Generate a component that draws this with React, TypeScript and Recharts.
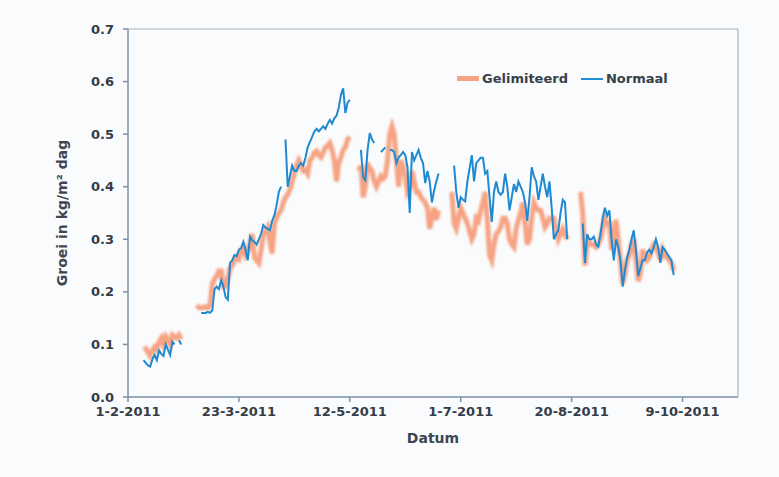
import React from "react";
import {
  LineChart,
  Line,
  XAxis,
  YAxis,
  Legend,
  ReferenceLine,
} from "recharts";

// day 0 = 1-2-2011
const xTickDays = [0, 50, 100, 150, 200, 250];
const yTicks = [0, 0.1, 0.2, 0.3, 0.4, 0.5, 0.6, 0.7];

const normaalSegments = [
  { start: 7, values: [0.07, 0.065, 0.06, 0.058, 0.072, 0.08, 0.07, 0.088, 0.082, 0.078, 0.1, 0.09, 0.08, 0.105, 0.1] },
  { start: 23, values: [0.108, 0.1] },
  {
    start: 33,
    values: [
      0.16, 0.16, 0.16, 0.162, 0.16, 0.165, 0.205, 0.21, 0.205, 0.222, 0.21, 0.19, 0.185, 0.255, 0.26, 0.27,
      0.268, 0.28, 0.283, 0.295, 0.28, 0.26, 0.305, 0.298, 0.295, 0.29, 0.3, 0.31, 0.327, 0.322, 0.32, 0.317,
      0.335, 0.346, 0.365, 0.39, 0.4,
    ],
  },
  {
    start: 71,
    values: [
      0.49, 0.4, 0.42, 0.44, 0.43, 0.43, 0.44, 0.445, 0.44, 0.455, 0.475, 0.485, 0.495, 0.505, 0.51, 0.505,
      0.51, 0.515, 0.51, 0.52, 0.527, 0.52, 0.53, 0.535, 0.55, 0.575, 0.587, 0.54, 0.56, 0.565,
    ],
  },
  { start: 105, values: [0.47, 0.418, 0.412, 0.47, 0.502, 0.49, 0.483] },
  { start: 114, values: [0.466, 0.47, 0.475] },
  {
    start: 118,
    values: [
      0.47, 0.47, 0.466, 0.445, 0.456, 0.46, 0.466, 0.46, 0.437, 0.35, 0.466, 0.45, 0.46, 0.47, 0.455, 0.445,
      0.407, 0.43, 0.41, 0.37, 0.393, 0.41, 0.425,
    ],
  },
  {
    start: 147,
    values: [
      0.44, 0.39, 0.36, 0.38, 0.375, 0.372, 0.41, 0.435, 0.46, 0.41, 0.445, 0.45, 0.455, 0.455, 0.425, 0.43,
      0.38, 0.333, 0.39, 0.41, 0.39, 0.385, 0.39, 0.425, 0.4, 0.355, 0.38, 0.405, 0.39, 0.41, 0.4, 0.39, 0.37,
      0.335, 0.38, 0.437, 0.42, 0.41, 0.375, 0.4, 0.425, 0.4, 0.38, 0.41, 0.36, 0.3, 0.31, 0.317, 0.35, 0.375,
      0.37, 0.3,
    ],
  },
  {
    start: 205,
    values: [
      0.33, 0.255, 0.31, 0.3, 0.3, 0.305, 0.29, 0.286, 0.31, 0.34, 0.36, 0.345, 0.355, 0.3, 0.26, 0.3, 0.285,
      0.26, 0.21, 0.24, 0.265, 0.28, 0.3, 0.317, 0.28, 0.23, 0.245, 0.26, 0.26, 0.275, 0.28, 0.273, 0.285, 0.3,
      0.285, 0.255, 0.285, 0.28, 0.273, 0.266, 0.26, 0.232,
    ],
  },
];

const gelimiteerdSegments = [
  {
    start: 7,
    values: [0.09, 0.092, 0.085, 0.078, 0.088, 0.095, 0.09, 0.105, 0.112, 0.1, 0.115, 0.108, 0.1, 0.118, 0.115, 0.112, 0.118, 0.11],
  },
  {
    start: 31,
    values: [
      0.175, 0.17, 0.17, 0.17, 0.172, 0.17, 0.175, 0.215, 0.225, 0.23, 0.24, 0.24, 0.21, 0.21, 0.225, 0.245,
      0.25, 0.26, 0.266, 0.262, 0.28, 0.285, 0.27, 0.28, 0.29, 0.31, 0.265, 0.26, 0.255, 0.28, 0.31, 0.315,
      0.323, 0.295, 0.273, 0.33, 0.34, 0.35, 0.355, 0.37, 0.38, 0.385, 0.395, 0.41, 0.425, 0.44, 0.45, 0.44,
      0.43, 0.432, 0.425, 0.45, 0.455, 0.465, 0.468, 0.46, 0.456, 0.465, 0.475, 0.478, 0.483, 0.47, 0.45, 0.41,
      0.445, 0.456, 0.47, 0.475, 0.49, 0.495,
    ],
  },
  {
    start: 104,
    values: [
      0.43, 0.44, 0.38, 0.4, 0.445, 0.435, 0.43, 0.41, 0.4, 0.41, 0.42, 0.415, 0.42, 0.45, 0.5, 0.515, 0.5,
      0.45, 0.4, 0.45, 0.44, 0.42, 0.39, 0.4, 0.43, 0.41, 0.39, 0.39, 0.38, 0.375, 0.37, 0.36, 0.32, 0.34, 0.36,
      0.337, 0.355,
    ],
  },
  {
    start: 146,
    values: [
      0.39, 0.33, 0.32, 0.34, 0.36, 0.35, 0.34, 0.33, 0.315, 0.3, 0.31, 0.34, 0.335, 0.355, 0.37, 0.39, 0.337,
      0.27, 0.26, 0.29, 0.31, 0.315, 0.323, 0.34, 0.34, 0.33, 0.3, 0.29, 0.285, 0.32, 0.337, 0.35, 0.37, 0.33,
      0.29, 0.3, 0.34, 0.37, 0.36, 0.355, 0.355, 0.34, 0.323, 0.33, 0.34, 0.34, 0.34, 0.32, 0.3, 0.31, 0.32,
      0.31, 0.3,
    ],
  },
  {
    start: 204,
    values: [
      0.39, 0.35, 0.25, 0.29, 0.295, 0.29, 0.29, 0.285, 0.29, 0.3, 0.32, 0.34, 0.33, 0.33, 0.28, 0.31, 0.337,
      0.3, 0.26, 0.215, 0.235, 0.26, 0.27, 0.29, 0.3, 0.26, 0.22, 0.235, 0.28, 0.27, 0.26, 0.265, 0.28, 0.29,
      0.285, 0.275, 0.26, 0.28, 0.27, 0.265, 0.26, 0.255, 0.24,
    ],
  },
];

type Segment = { start: number; values: number[] };

function lookup(segments: Segment[], day: number): number | null {
  for (const s of segments) {
    const i = day - s.start;
    if (i >= 0 && i < s.values.length) return s.values[i];
  }
  return null;
}

const data: { day: number; gelimiteerd: number | null; normaal: number | null }[] = [];
for (let day = 7; day <= 246; day++) {
  data.push({
    day,
    gelimiteerd: lookup(gelimiteerdSegments, day),
    normaal: lookup(normaalSegments, day),
  });
}

function formatDate(day: number) {
  const d = new Date(Date.UTC(2011, 1, 1 + day));
  return `${d.getUTCDate()}-${d.getUTCMonth() + 1}-${d.getUTCFullYear()}`;
}

const FONT = "'DejaVu Sans', Verdana, sans-serif";
const TEXT = "#333c47";
const AXIS = "#7d91a5";

function LegendContent() {
  return (
    <div style={{ display: "flex", alignItems: "center", fontFamily: FONT, fontSize: 13, fontWeight: "bold", color: "#37414c" }}>
      <span style={{ width: 22, height: 5, background: "#f7a284", display: "inline-block", marginRight: 3 }} />
      <span>Gelimiteerd</span>
      <span style={{ width: 22, height: 2, background: "#1f8fd6", display: "inline-block", marginLeft: 13, marginRight: 3 }} />
      <span>Normaal</span>
    </div>
  );
}

export default function App() {
  return (
    <div style={{ position: "absolute", left: 0, top: 0, width: 779, height: 477, background: "#fafbfc" }}>
      <LineChart width={779} height={477} data={data} margin={{ top: 29, right: 41, bottom: 30, left: 0 }}>
        <defs>
          <filter id="soft" x="-5%" y="-5%" width="110%" height="110%">
            <feGaussianBlur stdDeviation="0.8" />
          </filter>
        </defs>
        <XAxis
          dataKey="day"
          type="number"
          domain={[0, 275]}
          ticks={xTickDays}
          tickFormatter={formatDate}
          height={50}
          tickSize={5}
          tickMargin={5}
          stroke={AXIS}
          strokeWidth={1.5}
          tick={{ fontSize: 13, fontWeight: "bold", fill: TEXT, fontFamily: FONT }}
          label={{ value: "Datum", position: "insideBottom", offset: 4, fontSize: 14, fontWeight: "bold", fill: "#3d4651", fontFamily: FONT }}
        />
        <YAxis
          type="number"
          domain={[0, 0.7]}
          ticks={yTicks}
          tickFormatter={(v: number) => v.toFixed(1)}
          width={128}
          tickSize={5}
          tickMargin={9}
          stroke={AXIS}
          strokeWidth={1.5}
          tick={{ fontSize: 13, fontWeight: "bold", fill: TEXT, fontFamily: FONT }}
          label={{ value: "Groei in kg/m² dag", angle: -90, position: "center", dx: -2, fontSize: 14, fontWeight: "bold", fill: "#3d4651", fontFamily: FONT }}
        />
        <ReferenceLine y={0.7} stroke="#a3b2c1" strokeWidth={1.2} />
        <ReferenceLine x={275} stroke="#a3b2c1" strokeWidth={1.2} />
        <Legend
          layout="horizontal"
          verticalAlign="middle"
          align="center"
          content={<LegendContent />}
          wrapperStyle={{ position: "absolute", top: 71, left: 457, width: "auto" }}
        />
        <Line
          type="linear"
          dataKey="gelimiteerd"
          name="Gelimiteerd"
          stroke="#f58a62"
          strokeOpacity={0.78}
          strokeWidth={5}
          dot={false}
          filter="url(#soft)"
          isAnimationActive={false}
        />
        <Line
          type="linear"
          dataKey="normaal"
          name="Normaal"
          stroke="#1f8ad2"
          strokeWidth={2}
          dot={false}
          isAnimationActive={false}
        />
      </LineChart>
    </div>
  );
}
